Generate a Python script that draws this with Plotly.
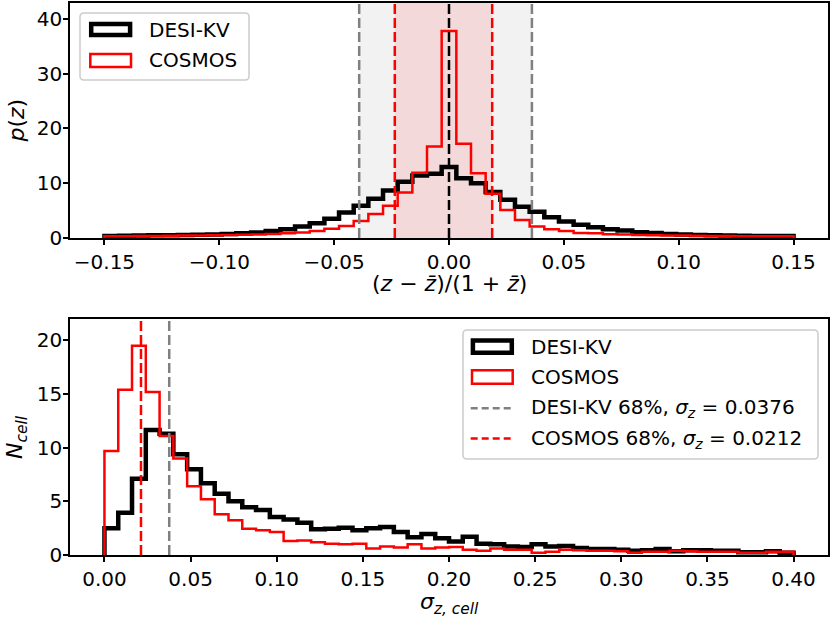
import plotly.graph_objects as go

# ---- data ----
# top panel: (z - zbar)/(1 + zbar), 47 bins between -0.15 and 0.15
dz_lo, dz_hi = -0.15, 0.15
dz_desi = [0.36, 0.40, 0.45, 0.50, 0.50, 0.55, 0.60, 0.65, 0.75, 0.85,
           1.00, 1.30, 1.60, 2.10, 2.70, 3.50, 4.65, 5.90, 7.15, 8.65,
           10.25, 11.40, 11.75, 12.95, 10.90, 10.00, 8.40, 7.00, 5.70, 4.80,
           3.80, 3.00, 2.40, 1.95, 1.60, 1.35, 1.05, 0.90, 0.75, 0.65,
           0.55, 0.50, 0.45, 0.40, 0.38, 0.36, 0.35]
dz_cosmos = [0.30, 0.30, 0.35, 0.35, 0.40, 0.45, 0.45, 0.50, 0.55, 0.60,
             0.65, 0.75, 0.85, 1.00, 1.30, 1.70, 2.20, 3.10, 4.40, 5.90,
             8.30, 11.90, 16.70, 37.80, 17.20, 11.80, 8.10, 5.10, 3.30, 2.10,
             1.60, 1.30, 0.90, 0.85, 0.70, 0.65, 0.55, 0.50, 0.45, 0.45,
             0.40, 0.35, 0.35, 0.30, 0.30, 0.30, 0.30]
desi_68 = [-0.0391, 0.0361]
cosmos_68 = [-0.0236, 0.0188]
dz_center = 0.0

# bottom panel: sigma_z per cell, 50 bins between 0 and 0.4
sig_lo, sig_hi = 0.0, 0.4
sig_desi = [2.50, 3.95, 7.10, 11.65, 11.30, 9.40, 8.00, 6.70, 5.70, 5.00,
            4.45, 4.20, 3.55, 3.30, 3.00, 2.40, 2.45, 2.55, 2.30, 2.50,
            2.60, 2.15, 1.65, 1.95, 1.55, 1.25, 1.70, 1.05, 1.00, 0.80,
            0.75, 1.00, 0.80, 0.85, 0.65, 0.55, 0.55, 0.50, 0.40, 0.45,
            0.55, 0.35, 0.45, 0.45, 0.40, 0.40, 0.25, 0.25, 0.35, 0.22]
sig_cosmos = [9.70, 15.40, 19.50, 15.20, 11.10, 9.00, 6.40, 5.20, 3.80, 3.25,
              2.45, 2.30, 2.15, 1.30, 1.35, 1.20, 1.05, 1.00, 1.05, 0.60,
              0.80, 0.70, 1.00, 0.60, 0.70, 0.75, 0.50, 0.40, 0.60, 0.50,
              0.50, 0.20, 0.30, 0.50, 0.45, 0.40, 0.40, 0.35, 0.20, 0.30,
              0.30, 0.40, 0.35, 0.30, 0.30, 0.30, 0.22, 0.20, 0.30, 0.30]
sigma_desi = 0.0376
sigma_cosmos = 0.0212

top_xticks = [-0.15, -0.10, -0.05, 0.0, 0.05, 0.10, 0.15]
top_xlabels = ["\u22120.15", "\u22120.10", "\u22120.05", "0.00", "0.05", "0.10", "0.15"]
top_yticks = [0, 10, 20, 30, 40]
bot_xticks = [0.0, 0.05, 0.10, 0.15, 0.20, 0.25, 0.30, 0.35, 0.40]
bot_xlabels = ["0.00", "0.05", "0.10", "0.15", "0.20", "0.25", "0.30", "0.35", "0.40"]
bot_yticks = [0, 5, 10, 15, 20]

names = ["DESI-KV", "COSMOS"]
line_labels = [f"DESI-KV 68%, <i>\u03c3<sub>z</sub></i> = {sigma_desi:.4f}",
               f"COSMOS 68%, <i>\u03c3<sub>z</sub></i> = {sigma_cosmos:.4f}"]

# ---- figure geometry (pixels) ----
W, H = 831, 617
ML, MR, MT, MB = 70, 3, 3, 62
FONT = "DejaVu Sans"
GREY = "#808080"


def step_xy(lo, hi, counts):
    """outline of a matplotlib style step histogram"""
    n = len(counts)
    w = (hi - lo) / n
    edges = [lo + i * w for i in range(n + 1)]
    xs = [edges[0]] + edges + [edges[-1]]
    ys = [0] + list(counts) + [counts[-1], 0]
    return xs, ys


def px(x, y):
    # pixel -> paper coords
    return (x - ML) / (W - ML - MR), (H - MB - y) / (H - MT - MB)


fig = go.Figure()

for xa, ya, lo, hi, d1, d2 in [("x", "y", dz_lo, dz_hi, dz_desi, dz_cosmos),
                               ("x2", "y2", sig_lo, sig_hi, sig_desi, sig_cosmos)]:
    for counts, col, lw in [(d1, "black", 4.5), (d2, "red", 2.5)]:
        xs, ys = step_xy(lo, hi, counts)
        fig.add_trace(go.Scatter(x=xs, y=ys, xaxis=xa, yaxis=ya, mode="lines",
                                 line=dict(color=col, width=lw, shape="hv"),
                                 showlegend=False, hoverinfo="skip"))

shapes = []
# shaded 68% regions, top panel
shapes.append(dict(type="rect", xref="x", yref="y domain", x0=desi_68[0], x1=desi_68[1],
                   y0=0, y1=1, fillcolor="rgba(128,128,128,0.1)", line_width=0, layer="below"))
shapes.append(dict(type="rect", xref="x", yref="y domain", x0=cosmos_68[0], x1=cosmos_68[1],
                   y0=0, y1=1, fillcolor="rgba(255,0,0,0.1)", line_width=0, layer="below"))


def vline(xref, yref, x, col, dash="10px,4px"):
    return dict(type="line", xref=xref, yref=yref + " domain", x0=x, x1=x, y0=0, y1=1,
                line=dict(color=col, width=2.5, dash=dash), layer="above")


for v in desi_68:
    shapes.append(vline("x", "y", v, GREY))
for v in cosmos_68:
    shapes.append(vline("x", "y", v, "red"))
shapes.append(vline("x", "y", dz_center, "black"))
shapes.append(vline("x2", "y2", sigma_desi, GREY))
shapes.append(vline("x2", "y2", sigma_cosmos, "red"))


# ---- hand drawn legends (matplotlib style patch handles) ----
def rounded_box(x0, y0, x1, y1, r=4):
    a0, b0 = px(x0, y0)
    a1, b1 = px(x1, y1)
    rx = r / (W - ML - MR)
    ry = r / (H - MT - MB)
    path = (f"M{a0+rx},{b0} L{a1-rx},{b0} Q{a1},{b0} {a1},{b0-ry} "
            f"L{a1},{b1+ry} Q{a1},{b1} {a1-rx},{b1} L{a0+rx},{b1} "
            f"Q{a0},{b1} {a0},{b1+ry} L{a0},{b0-ry} Q{a0},{b0} {a0+rx},{b0} Z")
    return dict(type="path", xref="paper", yref="paper", path=path,
                fillcolor="rgba(255,255,255,0.8)", line=dict(color="#cccccc", width=1.5),
                layer="above")


def handle_rect(x0, y0, x1, y1, col, lw):
    a0, b0 = px(x0, y0)
    a1, b1 = px(x1, y1)
    return dict(type="rect", xref="paper", yref="paper", x0=a0, x1=a1, y0=b0, y1=b1,
                line=dict(color=col, width=lw), fillcolor="rgba(0,0,0,0)", layer="above")


def handle_line(x0, x1, y, col):
    a0, b = px(x0, y)
    a1, _ = px(x1, y)
    return dict(type="line", xref="paper", yref="paper", x0=a0, x1=a1, y0=b, y1=b,
                line=dict(color=col, width=2.5, dash="7px,4px"), layer="above")


annotations = []


def text_at(x, y, text, xanchor="left", angle=0, size=20):
    a, b = px(x, y)
    annotations.append(dict(xref="paper", yref="paper", x=a, y=b, text=text,
                            showarrow=False, xanchor=xanchor, yanchor="middle",
                            textangle=angle,
                            font=dict(family=FONT, size=size, color="black")))


# top legend
shapes.append(rounded_box(80, 13, 249, 80))
shapes.append(handle_rect(91.2, 23.9, 130.1, 35.1, "black", 4.5))
shapes.append(handle_rect(90.3, 54.0, 131.0, 67.0, "red", 2.5))
text_at(147, 29.5, names[0])
text_at(147, 60.5, names[1])

# bottom legend
shapes.append(rounded_box(463, 330, 818, 459))
shapes.append(handle_rect(472.9, 340.5, 511.8, 352.8, "black", 4.5))
shapes.append(handle_rect(472.0, 370.3, 512.7, 383.7, "red", 2.5))
shapes.append(handle_line(470.7, 514.0, 408.3, GREY))
shapes.append(handle_line(470.7, 514.0, 438.5, "red"))
text_at(529, 346.7, names[0])
text_at(529, 377.3, names[1])
text_at(529, 408.3, line_labels[0])
text_at(529, 438.5, line_labels[1])

# axis titles (mathtext in the original renders a little larger)
text_at(449, 284, "(<i>z</i> \u2212 <i>z\u0304</i>)/(1 + <i>z\u0304</i>)", xanchor="center", size=22)
text_at(449, 603, "<i>\u03c3<sub>z, cell</sub></i>", xanchor="center", size=22)
text_at(16, 120.5, "<i>p</i>(<i>z</i>)", xanchor="center", angle=-90, size=22)
text_at(17, 437, "<i>N<sub>cell</sub></i>", xanchor="center", angle=-90, size=22)

axis_common = dict(showgrid=False, zeroline=False, showline=True, mirror=True,
                   linecolor="black", linewidth=1.6, ticks="outside", ticklen=5,
                   tickwidth=1.6, tickcolor="black", automargin=False,
                   tickfont=dict(family=FONT, size=20, color="black"))

top_bottom = (H - MB - 238) / (H - MT - MB)
bot_top = (H - MB - 319) / (H - MT - MB)

fig.update_layout(
    width=W, height=H,
    margin=dict(l=ML, r=MR, t=MT, b=MB),
    paper_bgcolor="white", plot_bgcolor="white",
    showlegend=False,
    font=dict(family=FONT, size=20, color="black"),
    xaxis=dict(axis_common, domain=[0, 1], anchor="y", range=[-0.165, 0.165],
               tickvals=top_xticks, ticktext=top_xlabels),
    yaxis=dict(axis_common, domain=[top_bottom, 1], anchor="x", range=[0, 42.9],
               tickvals=top_yticks, ticklabelstandoff=-3),
    xaxis2=dict(axis_common, domain=[0, 1], anchor="y2", range=[-0.02, 0.42],
                tickvals=bot_xticks, ticktext=bot_xlabels),
    yaxis2=dict(axis_common, domain=[0, bot_top], anchor="x2", range=[0, 22.0],
                tickvals=bot_yticks, ticklabelstandoff=-3),
    shapes=shapes,
    annotations=annotations,
)

# the page body has a default margin; drop it so the figure sits at the corner
fig.write_html("out.html", config={"displayModeBar": False},
               post_script="document.body.style.margin='0';"
                           "document.body.style.overflow='hidden';")
